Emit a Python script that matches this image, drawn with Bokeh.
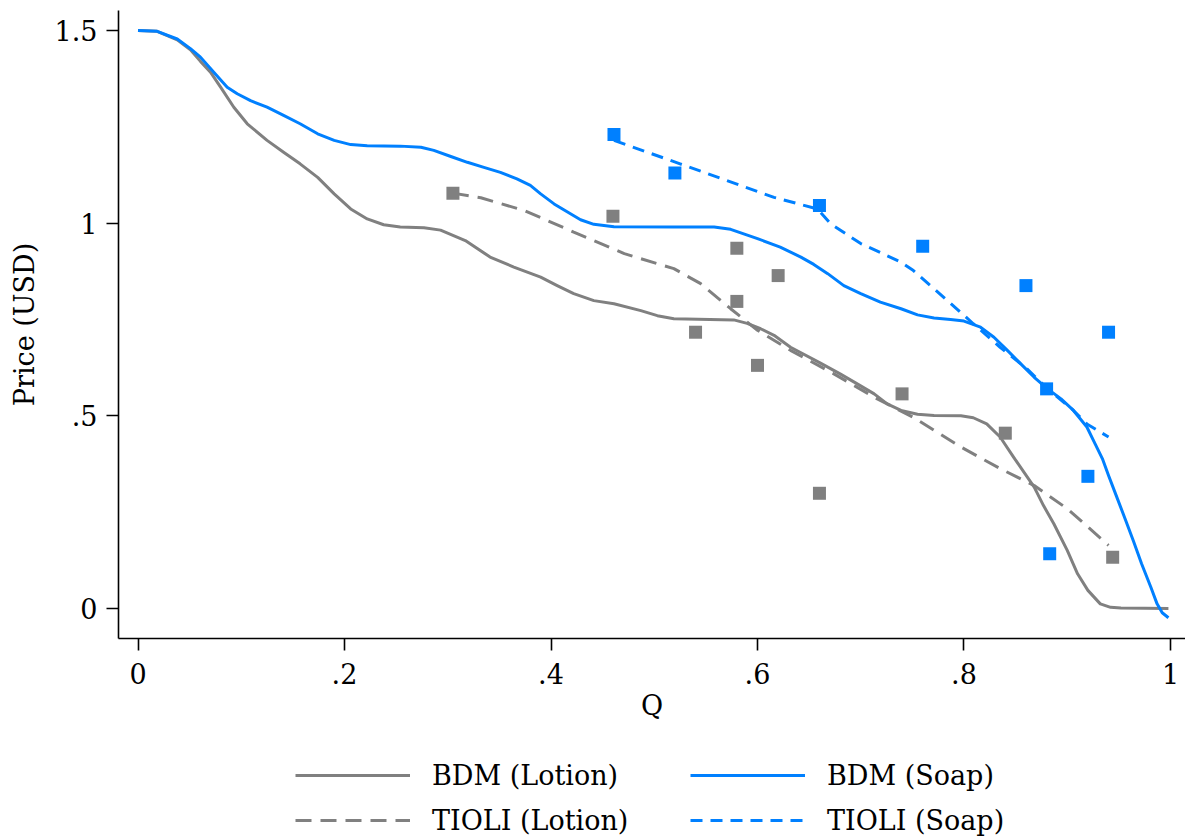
from bokeh.plotting import figure
from bokeh.layouts import column
from bokeh.models import Range1d, FixedTicker, Legend, LegendItem
from bokeh.embed import file_html
from bokeh.resources import INLINE

# ---------------- data ----------------
bdm_lotion_q = [0, 0.0186, 0.038, 0.0508, 0.0605, 0.0702, 0.080, 0.0928, 0.1058, 0.125, 0.141, 0.157,
                0.174, 0.190, 0.206, 0.222, 0.238, 0.254, 0.277, 0.293, 0.317, 0.341, 0.364, 0.390,
                0.406, 0.422, 0.4415, 0.461, 0.487, 0.503, 0.519, 0.577, 0.590, 0.603, 0.616, 0.632,
                0.661, 0.680, 0.6966, 0.713, 0.7256, 0.739, 0.755, 0.771, 0.797, 0.809, 0.822, 0.835,
                0.848, 0.868, 0.877, 0.887, 0.900, 0.910, 0.920, 0.932, 0.942, 0.952, 0.998]
bdm_lotion_p = [1.5, 1.498, 1.476, 1.450, 1.420, 1.392, 1.353, 1.301, 1.258, 1.215, 1.184, 1.154,
                1.119, 1.076, 1.037, 1.011, 0.996, 0.990, 0.988, 0.982, 0.955, 0.912, 0.886, 0.860,
                0.838, 0.817, 0.799, 0.791, 0.773, 0.760, 0.752, 0.749, 0.740, 0.726, 0.709, 0.678,
                0.637, 0.609, 0.583, 0.557, 0.531, 0.514, 0.504, 0.501, 0.500, 0.495, 0.479, 0.445,
                0.393, 0.315, 0.267, 0.220, 0.151, 0.090, 0.047, 0.012, 0.003, 0.001, 0.0]

bdm_soap_q = [0, 0.0186, 0.038, 0.0508, 0.0605, 0.0734, 0.0864, 0.0961, 0.109, 0.125, 0.141, 0.157,
              0.174, 0.190, 0.206, 0.222, 0.254, 0.274, 0.2865, 0.303, 0.319, 0.335, 0.351, 0.367,
              0.380, 0.390, 0.403, 0.416, 0.4286, 0.4415, 0.461, 0.519, 0.558, 0.574, 0.600, 0.622,
              0.642, 0.6545, 0.668, 0.6836, 0.700, 0.719, 0.739, 0.755, 0.771, 0.787, 0.800, 0.816,
              0.829, 0.842, 0.855, 0.868, 0.881, 0.894, 0.906, 0.919, 0.927, 0.934, 0.940, 0.948,
              0.956, 0.964, 0.972, 0.981, 0.987, 0.992, 0.998]
bdm_soap_p = [1.5, 1.498, 1.478, 1.453, 1.431, 1.392, 1.353, 1.336, 1.318, 1.301, 1.280, 1.258,
              1.232, 1.215, 1.204, 1.201, 1.200, 1.197, 1.189, 1.173, 1.158, 1.145, 1.132, 1.115,
              1.098, 1.076, 1.050, 1.029, 1.009, 0.997, 0.991, 0.990, 0.990, 0.984, 0.960, 0.938,
              0.912, 0.893, 0.869, 0.838, 0.817, 0.795, 0.778, 0.762, 0.754, 0.750, 0.746, 0.730,
              0.704, 0.670, 0.635, 0.600, 0.570, 0.544, 0.514, 0.471, 0.427, 0.389, 0.345, 0.289,
              0.233, 0.176, 0.116, 0.055, 0.012, -0.011, -0.024]

tioli_lotion_q = [0.305, 0.332, 0.374, 0.422, 0.471, 0.519, 0.545, 0.574, 0.600, 0.632, 0.674, 0.716,
                  0.751, 0.797, 0.835, 0.868, 0.900, 0.940]
tioli_lotion_p = [1.078, 1.066, 1.033, 0.977, 0.921, 0.882, 0.843, 0.778, 0.722, 0.670, 0.609, 0.544,
                  0.496, 0.419, 0.363, 0.319, 0.259, 0.164]

tioli_soap_q = [0.461, 0.525, 0.616, 0.658, 0.671, 0.700, 0.739, 0.751, 0.784, 0.809, 0.835, 0.861,
                0.881, 0.906, 0.919, 0.940]
tioli_soap_p = [1.215, 1.154, 1.067, 1.037, 0.998, 0.947, 0.899, 0.877, 0.799, 0.739, 0.678, 0.622,
                0.570, 0.514, 0.479, 0.445]

pts_lotion_q = [0.305, 0.460, 0.540, 0.580, 0.580, 0.600, 0.620, 0.660, 0.740, 0.840, 0.944]
pts_lotion_p = [1.078, 1.018, 0.717, 0.935, 0.797, 0.631, 0.864, 0.299, 0.557, 0.455, 0.133]

pts_soap_q = [0.461, 0.520, 0.660, 0.760, 0.860, 0.880, 0.883, 0.920, 0.940]
pts_soap_p = [1.230, 1.130, 1.046, 0.940, 0.838, 0.570, 0.142, 0.343, 0.717]

x_ticks = [0, 0.2, 0.4, 0.6, 0.8, 1.0]
x_tick_labels = ["0", ".2", ".4", ".6", ".8", "1"]
y_ticks = [0, 0.5, 1.0, 1.5]
y_tick_labels = ["0", ".5", "1", "1.5"]

legend_labels = ["BDM (Lotion)", "TIOLI (Lotion)", "BDM (Soap)", "TIOLI (Soap)"]

# ---------------- style ----------------
GRAY = "#808080"
BLUE = "#0080ff"
FONT = "DejaVu Serif"
FS = "27px"
LW = 3

p = figure(width=1185, height=734, output_backend="svg", toolbar_location=None,
           x_range=Range1d(-0.01889, 1.01453), y_range=Range1d(-0.0779, 1.552),
           min_border_left=118, min_border_top=10, min_border_right=0, min_border_bottom=96)
p.outline_line_color = None
p.grid.visible = False
p.background_fill_color = "white"
p.border_fill_color = "white"

p.scatter(pts_lotion_q, pts_lotion_p, marker="square", size=13, fill_color=GRAY, line_color=None)
p.scatter(pts_soap_q, pts_soap_p, marker="square", size=13, fill_color=BLUE, line_color=None)
p.line(bdm_lotion_q, bdm_lotion_p, line_color=GRAY, line_width=LW, line_join="round")
p.line(tioli_lotion_q, tioli_lotion_p, line_color=GRAY, line_width=LW, line_dash="16 9")
p.line(bdm_soap_q, bdm_soap_p, line_color=BLUE, line_width=LW, line_join="round")
p.line(tioli_soap_q, tioli_soap_p, line_color=BLUE, line_width=LW, line_dash="12 8")

for ax in (p.xaxis[0], p.yaxis[0]):
    ax.axis_line_color = "black"
    ax.axis_line_width = 1.6
    ax.major_tick_line_color = "black"
    ax.major_tick_line_width = 1.6
    ax.major_tick_out = 12
    ax.major_tick_in = 0
    ax.minor_tick_line_color = None
    ax.major_label_text_font = FONT
    ax.major_label_text_font_size = FS
    ax.major_label_text_color = "black"
    ax.axis_label_text_font = FONT
    ax.axis_label_text_font_size = FS
    ax.axis_label_text_font_style = "normal"
    ax.axis_label_text_color = "black"

p.xaxis.ticker = FixedTicker(ticks=x_ticks)
p.xaxis.major_label_overrides = {t: l for t, l in zip(x_ticks, x_tick_labels)}
p.yaxis.ticker = FixedTicker(ticks=y_ticks)
p.yaxis.major_label_overrides = {t: l for t, l in zip(y_ticks, y_tick_labels)}
p.xaxis.axis_label = "Q"
p.yaxis.axis_label = "Price (USD)"
p.xaxis.major_label_standoff = 12
p.yaxis.major_label_standoff = 9
p.xaxis.axis_label_standoff = 3
p.yaxis.axis_label_standoff = 12

# ---------------- legend strip (frame aligns with main frame at x=118) ----------------
leg = figure(width=1185, height=106, output_backend="svg", toolbar_location=None,
             x_range=Range1d(0, 1), y_range=Range1d(0, 1),
             min_border_left=0, min_border_right=0, min_border_top=0, min_border_bottom=0)
leg.axis.visible = False
leg.grid.visible = False
leg.outline_line_color = None
leg.background_fill_color = "white"
leg.border_fill_color = "white"

# off-screen samples used only for the legend keys
g1 = leg.line([-5, -4], [-5, -4], line_color=GRAY, line_width=LW)
g2 = leg.line([-5, -4], [-5, -4], line_color=GRAY, line_width=LW, line_dash="16 9")
b1 = leg.line([-5, -4], [-5, -4], line_color=BLUE, line_width=LW)
b2 = leg.line([-5, -4], [-5, -4], line_color=BLUE, line_width=LW, line_dash="12 8")


def make_legend(items, loc):
    lg = Legend(items=items, location=loc)
    lg.border_line_color = None
    lg.background_fill_alpha = 0
    lg.label_text_font = FONT
    lg.label_text_font_size = FS
    lg.label_text_color = "black"
    lg.glyph_width = 115
    lg.glyph_height = 20
    lg.label_standoff = 22
    lg.label_height = 32
    lg.spacing = 13
    lg.padding = 0
    lg.margin = 0
    return lg


leg.add_layout(make_legend([LegendItem(label=legend_labels[0], renderers=[g1]),
                            LegendItem(label=legend_labels[1], renderers=[g2])], (177, 4)))
leg.add_layout(make_legend([LegendItem(label=legend_labels[2], renderers=[b1]),
                            LegendItem(label=legend_labels[3], renderers=[b2])], (572, 4)))

layout = column(p, leg, spacing=0)
open("out.html", "w").write(file_html(layout, INLINE))
